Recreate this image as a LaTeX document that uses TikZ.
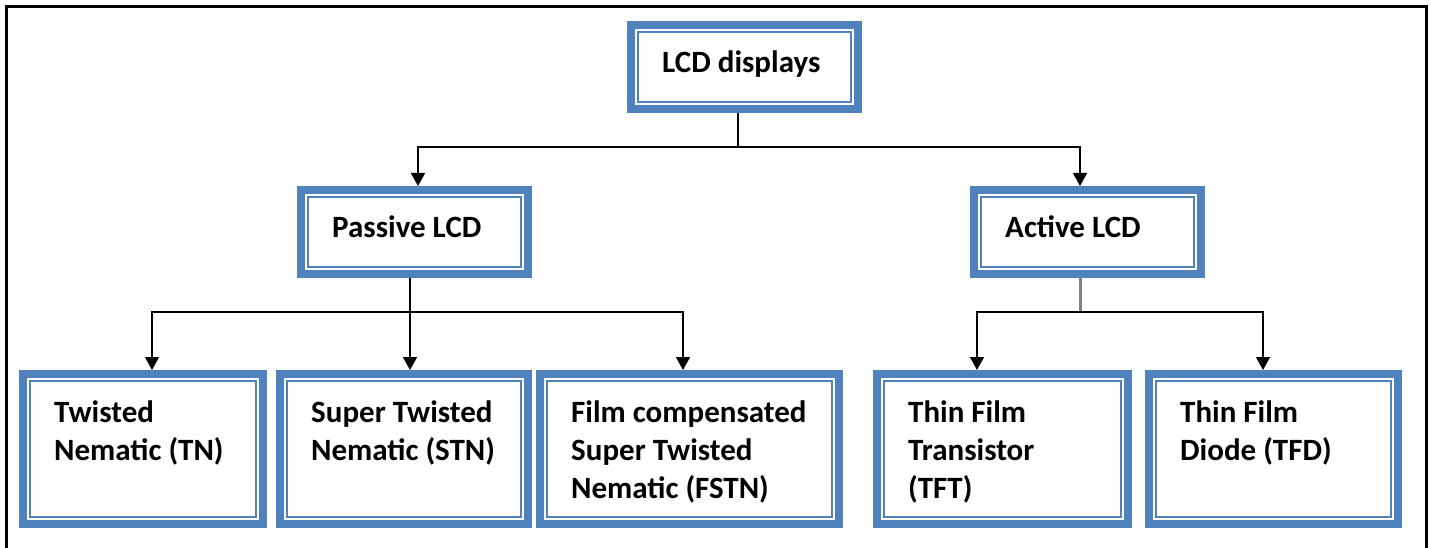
\documentclass[tikz,border=0pt]{standalone}
\usepackage{fontspec}
\setmainfont{Carlito}
\usepackage{xcolor}
\usepackage{tikz}
\usetikzlibrary{shapes,arrows,positioning,calc,arrows.meta}
\definecolor{lcdblue}{HTML}{4F81BD}

\begin{document}
\begin{tikzpicture}[x=1pt, y=-1pt,
    box/.style={draw=lcdblue, line width=8pt, fill=white, inner sep=0pt,
        path picture={\draw[lcdblue, line width=1.6pt]
            ([shift={(7pt,-7pt)}]path picture bounding box.north west) rectangle
            ([shift={(-7pt,7pt)}]path picture bounding box.south east);}},
    topbox/.style={box, minimum width=227pt, minimum height=84pt},
    leafbox/.style={box, minimum height=150pt},
    txt/.style={anchor=north west, inner sep=0pt, align=left,
        font=\fontsize{31pt}{38pt}\selectfont\bfseries, execute at begin node=\strut},
    arr/.style={-{Triangle[width=14pt,length=13pt]}, line width=1.6pt}]
    \useasboundingbox[fill=white] (0,0) rectangle (1431,548);

    \node[topbox] (lcd) at (744.5,67) {};
    \node[topbox] (passive) at (414.5,232) {};
    \node[topbox] (active) at (1087.5,232) {};
    \node[leafbox, minimum width=240pt] (tn) at (143,449) {};
    \node[leafbox, minimum width=248pt] (stn) at (404,449) {};
    \node[leafbox, minimum width=299pt] (fstn) at (689.5,449) {};
    \node[leafbox, minimum width=251pt] (tft) at (1002.5,449) {};
    \node[leafbox, minimum width=249pt] (tfd) at (1273.5,449) {};

    % labels sit at the top left of each box
    \foreach \b/\d/\t in {lcd/24.5/{LCD displays}, passive/24.5/{Passive LCD},
        active/24.5/{Active LCD}, tn/30.5/{Twisted\\Nematic (TN)},
        stn/30.5/{Super Twisted\\Nematic (STN)},
        fstn/30.5/{Film compensated\\Super Twisted\\Nematic (FSTN)},
        tft/30.5/{Thin Film\\Transistor\\(TFT)}, tfd/30.5/{Thin Film\\Diode (TFD)}}
        \node[txt] (\b-txt) at ([shift={(35pt,-\d pt)}]\b.north west) {\t};

    \coordinate (j0) at (738,147);
    \draw[line width=1.6pt] (lcd.south -| j0) -- (j0);
    \draw[arr] (j0) -| ([xshift=3.5pt]passive.north);
    \draw[arr] (j0) -| ([xshift=-7.5pt]active.north);

    \coordinate (j1) at (410,312);
    \draw[line width=1.6pt] (passive.south -| j1) -- (j1);
    \draw[arr] (j1) -| ([xshift=9pt]tn.north);
    \draw[arr] (j1) -- (j1 |- stn.north);
    \draw[arr] (j1) -| ([xshift=-6.5pt]fstn.north);

    \coordinate (j2) at (1080,312);
    \draw[gray, line width=3pt] (active.south -| j2) -- (j2);
    \draw[arr] (j2) -| ([xshift=-25.5pt]tft.north);
    \draw[arr] (j2) -| ([xshift=-10.5pt]tfd.north);

    \draw[line width=3pt] (6,548) -- (6,7) -- (1426,7) -- (1426,548);
\end{tikzpicture}
\end{document}
